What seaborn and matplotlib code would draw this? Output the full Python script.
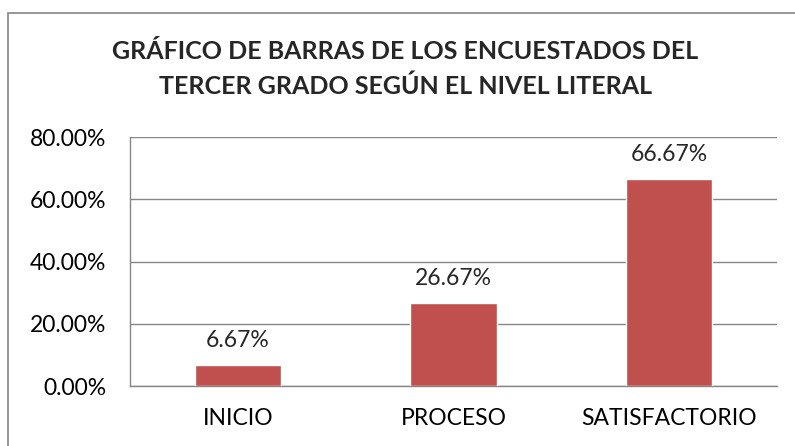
import matplotlib
matplotlib.use('Agg')
import matplotlib.pyplot as plt
import seaborn as sns
import pandas as pd
from matplotlib.patches import Rectangle
from matplotlib.ticker import FuncFormatter

niveles = ['INICIO', 'PROCESO', 'SATISFACTORIO']
porcentajes = [0.0667, 0.2667, 0.6667]
etiquetas = ['6.67%', '26.67%', '66.67%']

df = pd.DataFrame({'Nivel': niveles, 'Porcentaje': porcentajes})

sns.set_style('white')
plt.rcParams['font.family'] = ['Lato', 'DejaVu Sans']

fig = plt.figure(figsize=(7.95, 4.46), dpi=100)
ax = fig.add_axes([0.1635, 0.1345, 0.8139, 0.5583])

sns.barplot(data=df, x='Nivel', y='Porcentaje', color='#C0504D', width=0.4,
            saturation=1, ax=ax, zorder=3)

ax.set_ylim(0, 0.8)
ax.set_yticks([0, 0.2, 0.4, 0.6, 0.8])
ax.yaxis.set_major_formatter(FuncFormatter(lambda v, p: f'{v*100:.2f}%'))
ax.grid(axis='y', color='#868686', linewidth=1, zorder=0)
ax.set_axisbelow(True)
ax.set_xlabel('')
ax.set_ylabel('')
ax.tick_params(axis='both', length=0, labelsize=16.5, colors='black')
ax.tick_params(axis='y', pad=17)
ax.tick_params(axis='x', pad=16)
for s in ['top', 'right']:
    ax.spines[s].set_visible(False)
for s in ['left', 'bottom']:
    ax.spines[s].set_color('#868686')
    ax.spines[s].set_linewidth(1)

# etiquetas de valor
for i, (v, t) in enumerate(zip(porcentajes, etiquetas)):
    ax.annotate(t, (i, v), xytext=(0, 10), textcoords='offset points',
                ha='center', va='bottom', fontsize=16.5)

# título
fig.text(0.51, 0.845, 'GRÁFICO DE BARRAS DE LOS ENCUESTADOS DEL\nTERCER GRADO SEGÚN EL NIVEL LITERAL',
         ha='center', va='center', fontsize=18, fontweight='bold', linespacing=1.6)

# borde del gráfico
fig.patches.append(Rectangle((8/795, -0.1), 1.2, 1 - 13/446 + 0.1, transform=fig.transFigure,
                             fill=False, edgecolor='#868686', linewidth=1.2))

fig.savefig('out.png', dpi=100)
